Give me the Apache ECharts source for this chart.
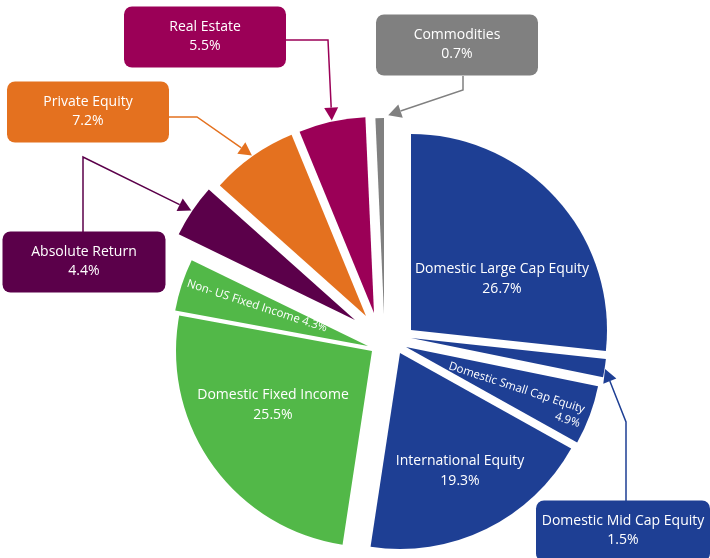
<!DOCTYPE html>
<html>
<head>
<meta charset="utf-8">
<script src="https://cdn.jsdelivr.net/npm/echarts@6/dist/echarts.min.js"></script>
<style>
html, body { margin: 0; padding: 0; background: #fff; }
#main { width: 710px; height: 558px; }
</style>
</head>
<body>
<div id="main"></div>
<script>
// asset allocation (% of portfolio), clockwise from 12 o'clock
var categories = ['Domestic Large Cap Equity', 'Domestic Mid Cap Equity', 'Domestic Small Cap Equity',
    'International Equity', 'Domestic Fixed Income', 'Non- US Fixed Income', 'Absolute Return',
    'Private Equity', 'Real Estate', 'Commodities'];
var weights = [26.7, 1.5, 4.9, 19.3, 25.5, 4.3, 4.4, 7.2, 5.5, 0.7];

var colors = ['#1e3f94', '#1e3f94', '#1e3f94', '#1e3f94', '#52b848', '#52b848',
    '#5b004a', '#e4711f', '#9b0057', '#808080'];

// exploded pie: every slice gets its own apex
var centers = [[411, 330], [411, 338], [406, 347], [400, 353], [372, 351],
    [368, 346], [355, 320], [366, 316], [374, 313], [384, 314]];
var R = 196;

// where each label goes; 'box' ones get a callout with an arrow
var labelCfg = [
    {kind: 'in', pos: [502, 279]},
    {kind: 'box', pos: [623, 531], w: 158, path: [[626, 501], [626, 422]], gap: 1},
    {kind: 'rot', pos: [582, 417], align: 'right', rotate: -18},
    {kind: 'in', pos: [460, 471]},
    {kind: 'in', pos: [273, 405]},
    {kind: 'rot', pos: [257, 306], align: 'center', rotate: -18, oneLine: true},
    {kind: 'box', pos: [84, 262], w: 147, path: [[83, 232], [83, 157]], gap: 1},
    {kind: 'box', pos: [88, 112], w: 146, path: [[169, 117], [197, 117]], gap: 1},
    {kind: 'box', pos: [205, 37], w: 146, path: [[286, 40], [328, 40]], gap: 1},
    {kind: 'box', pos: [457, 45], w: 146, path: [[463, 76], [463, 90]], gap: 9}
];

function labelFor(i) {
    var c = labelCfg[i];
    var l = {
        show: true, position: 'inside', color: '#fff', fontFamily: 'Open Sans',
        fontSize: 14, lineHeight: 20, formatter: '{b}\n{c}%', align: 'center',
        verticalAlign: 'middle', textBorderWidth: 0, overflow: 'none'
    };
    if (c.kind === 'rot') {
        l.fontSize = 11.5;
        l.lineHeight = 15;
        l.align = c.align;
        if (c.oneLine) l.formatter = '{b} {c}%';
    }
    if (c.kind === 'box') {
        l.backgroundColor = colors[i];
        l.borderRadius = 8;
        l.padding = [10, 8, 13, 8];
        l.width = c.w;
        l.lineHeight = 19;
    }
    return l;
}

var myChart = echarts.init(document.getElementById('main'));

var series = categories.map(function (name, i) {
    return {
        type: 'pie',
        center: centers[i],
        radius: R,
        startAngle: 90,
        clockwise: true,
        avoidLabelOverlap: false,
        silent: true,
        emphasis: {disabled: true},
        itemStyle: {borderWidth: 0},
        label: labelFor(i),
        labelLine: {show: false},
        labelLayout: function (p) {
            if (p.dataIndex !== i) return {};
            var c = labelCfg[i];
            return {x: c.pos[0], y: c.pos[1], align: c.align || 'center', verticalAlign: 'middle', rotate: c.rotate || 0};
        },
        data: categories.map(function (n, j) {
            var item = {name: n, value: weights[j]};
            if (j === i) {
                item.itemStyle = {color: colors[i]};
            } else {
                item.itemStyle = {opacity: 0};
                item.label = {show: false};
            }
            return item;
        })
    };
});

myChart.setOption({animation: false, series: series});

// callout arrows, pointing at the outer edge of each slice
var graphics = [];
labelCfg.forEach(function (c, i) {
    if (c.kind !== 'box') return;
    var lay = myChart.getModel().getSeriesByIndex(i).getData().getItemLayout(i);
    var mid = (lay.startAngle + lay.endAngle) / 2;
    var tip = [lay.cx + lay.r * Math.cos(mid), lay.cy + lay.r * Math.sin(mid)];
    var last = c.path[c.path.length - 1];
    var dx = tip[0] - last[0], dy = tip[1] - last[1];
    var len = Math.sqrt(dx * dx + dy * dy);
    dx /= len; dy /= len;
    tip = [tip[0] - dx * c.gap, tip[1] - dy * c.gap];
    var base = [tip[0] - dx * 13, tip[1] - dy * 13];
    var px = -dy * 7, py = dx * 7;
    graphics.push({
        type: 'polyline', silent: true, z: 10,
        shape: {points: c.path.concat([base])},
        style: {stroke: colors[i], lineWidth: 1.5, fill: null}
    });
    graphics.push({
        type: 'polygon', silent: true, z: 10,
        shape: {points: [tip, [base[0] + px, base[1] + py], [base[0] - px, base[1] - py]]},
        style: {fill: colors[i]}
    });
});
myChart.setOption({graphic: graphics});

window.addEventListener('resize', function () {
    myChart.resize();
});
</script>
</body>
</html>
